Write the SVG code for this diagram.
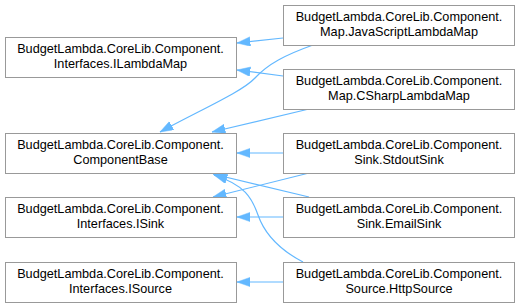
<svg xmlns="http://www.w3.org/2000/svg" width="520" height="307" viewBox="0 0 520 307">
  <style>
    .box { fill: #ffffff; stroke: #999999; stroke-width: 1; }
    .lbl { font-family: "Liberation Sans", Arial, sans-serif; font-size: 12.7px; fill: #000000; text-anchor: middle; }
    .edge { fill: none; stroke: #63b8ff; stroke-width: 1.2; marker-end: url(#arrow); }
  </style>
  <defs>
    <marker id="arrow" markerUnits="userSpaceOnUse" markerWidth="14" markerHeight="10" viewBox="0 0 14 10" refX="13.3" refY="4.7" orient="auto">
      <path d="M0,0 L13.3,4.7 L0,9.4 Z" fill="#63b8ff" stroke="#63b8ff" stroke-width="0.5"/>
    </marker>
  </defs>

  <!-- inheritance connectors -->
  <g id="edges">
    <path class="edge" d="M283,38 L237,43"/>
    <path class="edge" d="M283,76 L237,70"/>
    <path class="edge" d="M313,45 C285,55 268,64 255,78 C242,92 200,110 160,132"/>
    <path class="edge" d="M309,109 L212,132"/>
    <path class="edge" d="M283,153 L237,153"/>
    <path class="edge" d="M309,173 L213,197"/>
    <path class="edge" d="M309,197 L213,174"/>
    <path class="edge" d="M283,217 L237,217"/>
    <path class="edge" d="M303,262 C280,250 265,235 258,215 C252,198 245,185 214,175"/>
    <path class="edge" d="M283,282 L237,282"/>
  </g>

  <!-- base classes / interfaces -->
  <g id="ILambdaMap">
    <rect class="box" x="5.5" y="37.5" width="231" height="40"/>
    <text class="lbl" x="120.5" y="52.5">BudgetLambda.CoreLib.Component.</text>
    <text class="lbl" x="120.5" y="67.5">Interfaces.ILambdaMap</text>
  </g>
  <g id="ComponentBase">
    <rect class="box" x="5.5" y="133.5" width="231" height="40"/>
    <text class="lbl" x="120.5" y="148.5">BudgetLambda.CoreLib.Component.</text>
    <text class="lbl" x="120.5" y="163.5">ComponentBase</text>
  </g>
  <g id="ISink">
    <rect class="box" x="5.5" y="197.5" width="231" height="40"/>
    <text class="lbl" x="120.5" y="212.5">BudgetLambda.CoreLib.Component.</text>
    <text class="lbl" x="120.5" y="227.5">Interfaces.ISink</text>
  </g>
  <g id="ISource">
    <rect class="box" x="5.5" y="262.5" width="231" height="40"/>
    <text class="lbl" x="120.5" y="277.5">BudgetLambda.CoreLib.Component.</text>
    <text class="lbl" x="120.5" y="292.5">Interfaces.ISource</text>
  </g>

  <!-- derived classes -->
  <g id="JavaScriptLambdaMap">
    <rect class="box" x="283.5" y="5.5" width="231" height="40"/>
    <text class="lbl" x="399" y="20.5">BudgetLambda.CoreLib.Component.</text>
    <text class="lbl" x="399" y="35.5">Map.JavaScriptLambdaMap</text>
  </g>
  <g id="CSharpLambdaMap">
    <rect class="box" x="283.5" y="69.5" width="231" height="40"/>
    <text class="lbl" x="399" y="84.5">BudgetLambda.CoreLib.Component.</text>
    <text class="lbl" x="399" y="99.5">Map.CSharpLambdaMap</text>
  </g>
  <g id="StdoutSink">
    <rect class="box" x="283.5" y="133.5" width="231" height="40"/>
    <text class="lbl" x="399" y="148.5">BudgetLambda.CoreLib.Component.</text>
    <text class="lbl" x="399" y="163.5">Sink.StdoutSink</text>
  </g>
  <g id="EmailSink">
    <rect class="box" x="283.5" y="197.5" width="231" height="40"/>
    <text class="lbl" x="399" y="212.5">BudgetLambda.CoreLib.Component.</text>
    <text class="lbl" x="399" y="227.5">Sink.EmailSink</text>
  </g>
  <g id="HttpSource">
    <rect class="box" x="283.5" y="262.5" width="231" height="40"/>
    <text class="lbl" x="399" y="277.5">BudgetLambda.CoreLib.Component.</text>
    <text class="lbl" x="399" y="292.5">Source.HttpSource</text>
  </g>
</svg>
